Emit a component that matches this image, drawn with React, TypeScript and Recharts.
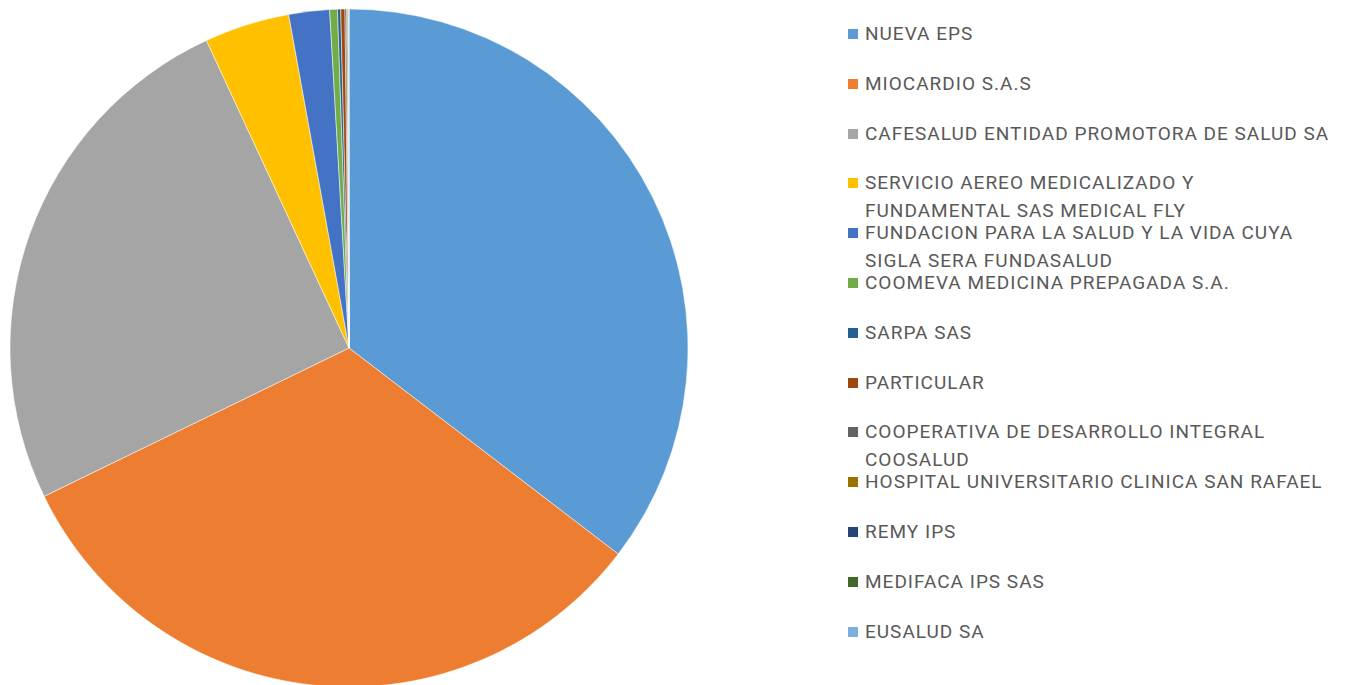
import React from "react";
import { PieChart, Pie, Cell, Legend } from "recharts";

const categories = [
  "NUEVA EPS",
  "MIOCARDIO S.A.S",
  "CAFESALUD ENTIDAD PROMOTORA DE SALUD SA",
  "SERVICIO AEREO MEDICALIZADO Y FUNDAMENTAL SAS MEDICAL FLY",
  "FUNDACION PARA LA SALUD Y LA VIDA CUYA SIGLA SERA FUNDASALUD",
  "COOMEVA MEDICINA PREPAGADA S.A.",
  "SARPA SAS",
  "PARTICULAR",
  "COOPERATIVA DE DESARROLLO INTEGRAL COOSALUD",
  "HOSPITAL UNIVERSITARIO CLINICA SAN RAFAEL",
  "REMY IPS",
  "MEDIFACA IPS SAS",
  "EUSALUD SA",
];

const legendLines = [
  ["NUEVA EPS"],
  ["MIOCARDIO S.A.S"],
  ["CAFESALUD ENTIDAD PROMOTORA DE SALUD SA"],
  ["SERVICIO AEREO MEDICALIZADO Y", "FUNDAMENTAL SAS MEDICAL FLY"],
  ["FUNDACION PARA LA SALUD Y LA VIDA CUYA", "SIGLA SERA FUNDASALUD"],
  ["COOMEVA MEDICINA PREPAGADA S.A."],
  ["SARPA SAS"],
  ["PARTICULAR"],
  ["COOPERATIVA DE DESARROLLO INTEGRAL", "COOSALUD"],
  ["HOSPITAL UNIVERSITARIO CLINICA SAN RAFAEL"],
  ["REMY IPS"],
  ["MEDIFACA IPS SAS"],
  ["EUSALUD SA"],
];

const values = [35.4, 32.4, 25.3, 4.06, 1.94, 0.37, 0.15, 0.2, 0.08, 0.05, 0.03, 0.02, 0.01];

const colors = [
  "#5B9BD5",
  "#ED7D31",
  "#A5A5A5",
  "#FFC000",
  "#4472C4",
  "#70AD47",
  "#255E91",
  "#9E480E",
  "#636363",
  "#997300",
  "#264478",
  "#43682B",
  "#7CAFDD",
];

const data = categories.map((name, i) => ({ name, value: values[i] }));

const LegendContent = () => (
  <div style={{ position: "relative", width: 500, height: 685 }}>
    {legendLines.map((lines, i) => {
      const cy = 34 + i * 49.8;
      return (
        <div key={i} style={{ position: "absolute", left: 0, top: cy - 14 }}>
          <div
            style={{
              position: "absolute",
              left: 2,
              top: 9,
              width: 10,
              height: 10,
              background: colors[i],
            }}
          />
          {lines.map((t, j) => (
            <div
              key={j}
              style={{
                position: "absolute",
                left: 19,
                top: j * 27.5,
                height: 28,
                lineHeight: "28px",
                whiteSpace: "nowrap",
                fontFamily: "Roboto, sans-serif",
                fontSize: 19,
                letterSpacing: 1.0,
                color: "#595959",
              }}
            >
              {t}
            </div>
          ))}
        </div>
      );
    })}
  </div>
);

export default function App() {
  return (
    <div style={{ position: "absolute", left: 0, top: 0, width: 1349, height: 685, background: "#fff" }}>
      <PieChart width={1349} height={685} margin={{ top: 0, right: 0, bottom: 0, left: 0 }}>
        <Pie
          data={data}
          dataKey="value"
          nameKey="name"
          cx={349}
          cy={348}
          outerRadius={339}
          startAngle={90}
          endAngle={-270}
          stroke="#ffffff"
          strokeWidth={0.5}
          isAnimationActive={false}
        >
          {data.map((d, i) => (
            <Cell key={d.name} fill={colors[i]} />
          ))}
        </Pie>
        <Legend
          content={<LegendContent />}
          wrapperStyle={{ position: "absolute", left: 846, top: 0, width: 500, height: 685 }}
        />
      </PieChart>
    </div>
  );
}
